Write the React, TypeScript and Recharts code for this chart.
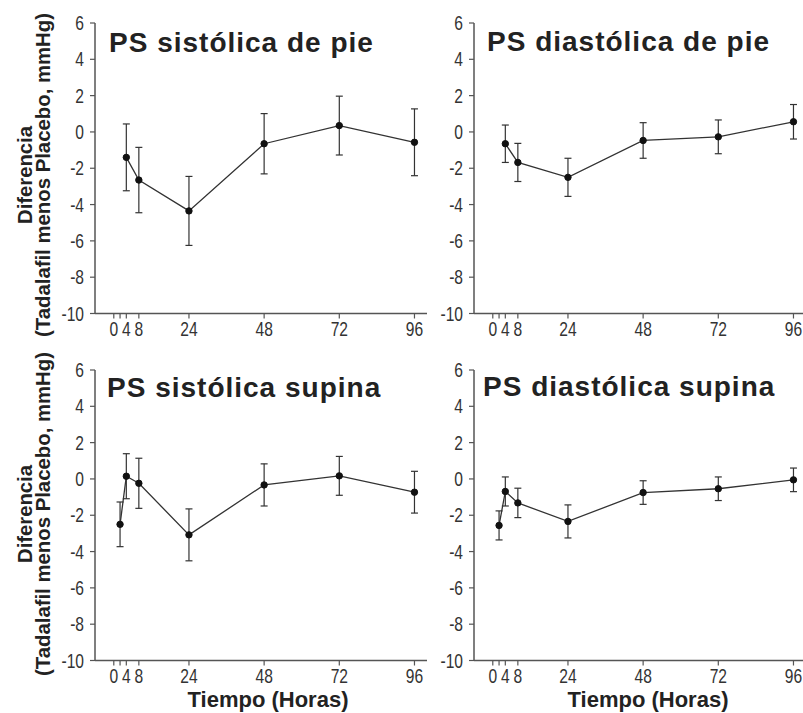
import React from 'react';
import { LineChart, Line, XAxis, YAxis, ErrorBar } from 'recharts';

// horas de medición
const hoursDePie = [4, 8, 24, 48, 72, 96];
const hoursSupina = [2, 4, 8, 24, 48, 72, 96];

// diferencia media (Tadalafil - Placebo, mmHg) y semiancho del intervalo
const sistDePieMean = [-1.4, -2.65, -4.35, -0.65, 0.35, -0.57];
const sistDePieErr = [1.84, 1.8, 1.9, 1.66, 1.62, 1.84];
const diastDePieMean = [-0.65, -1.68, -2.5, -0.47, -0.27, 0.56];
const diastDePieErr = [1.03, 1.05, 1.05, 0.98, 0.93, 0.95];
const sistSupinaMean = [-2.5, 0.15, -0.24, -3.08, -0.33, 0.17, -0.73];
const sistSupinaErr = [1.23, 1.24, 1.38, 1.43, 1.16, 1.07, 1.15];
const diastSupinaMean = [-2.56, -0.69, -1.32, -2.34, -0.75, -0.54, -0.05];
const diastSupinaErr = [0.8, 0.8, 0.81, 0.91, 0.65, 0.65, 0.65];

const xTicks = [0, 2, 4, 8, 24, 48, 72, 96];
const xTickLabels = ['0', '', '4', '8', '24', '48', '72', '96'];
const yTicks = [-10, -8, -6, -4, -2, 0, 2, 4, 6];

const titles = ['PS sistólica de pie', 'PS diastólica de pie', 'PS sistólica supina', 'PS diastólica supina'];
const yLabel1 = 'Diferencia';
const yLabel2 = '(Tadalafil menos Placebo, mmHg)';
const xLabel = 'Tiempo (Horas)';

const sans = '"Liberation Sans", Arial, Helvetica, sans-serif';
const axisColor = '#555';
const ink = '#222';
const squeeze = 0.8; // tick labels are a condensed face

const toRows = (hours: number[], mean: number[], err: number[]) =>
  hours.map((h, i) => ({ hour: h, mean: mean[i], err: err[i] }));

const XTick = (props: any) => {
  const { x, y, payload } = props;
  const label = xTickLabels[xTicks.indexOf(payload.value)];
  return (
    <text
      transform={`translate(${x},${y}) scale(${squeeze},1)`}
      dy="0.71em"
      textAnchor="middle"
      fontFamily={sans}
      fontSize={19.5}
      fill="#333"
    >
      {label}
    </text>
  );
};

const YTick = (props: any) => {
  const { x, y, payload } = props;
  return (
    <text
      transform={`translate(${x},${y}) scale(${squeeze},1)`}
      dy="0.36em"
      textAnchor="end"
      fontFamily={sans}
      fontSize={19.5}
      fill="#333"
    >
      {payload.value}
    </text>
  );
};

interface PanelProps {
  left: number;
  top: number;
  rows: { hour: number; mean: number; err: number }[];
}

const Panel: React.FC<PanelProps> = ({ left, top, rows }) => (
  <div style={{ position: 'absolute', left, top }}>
    <LineChart width={382} height={340.5} data={rows} margin={{ top: 10, right: 0, bottom: 0, left: 0 }}>
      <XAxis
        type="number"
        dataKey="hour"
        domain={[-6, 100]}
        ticks={xTicks}
        interval={0}
        allowDataOverflow
        tick={<XTick />}
        tickSize={5}
        tickMargin={4}
        height={40}
        axisLine={{ stroke: axisColor, strokeWidth: 1.5 }}
        tickLine={{ stroke: axisColor, strokeWidth: 1.2 }}
      />
      <YAxis
        type="number"
        domain={[-10, 6]}
        ticks={yTicks}
        interval={0}
        width={50}
        tickSize={5}
        tickMargin={6}
        axisLine={{ stroke: axisColor, strokeWidth: 1.5 }}
        tickLine={{ stroke: axisColor, strokeWidth: 1.2 }}
        tick={<YTick />}
      />
      <Line
        type="linear"
        dataKey="mean"
        stroke="#333"
        strokeWidth={1.3}
        dot={{ r: 3.2, fill: '#111', stroke: '#111', strokeWidth: 1 }}
        isAnimationActive={false}
      >
        <ErrorBar dataKey="err" width={3.5} stroke="#333" strokeWidth={1.2} isAnimationActive={false} />
      </Line>
    </LineChart>
  </div>
);

const YLabel = ({ cy }: { cy: number }) => (
  <g fontFamily={sans} fontWeight="bold" fontSize={21} fill={ink} textAnchor="middle">
    <text transform={`translate(31.5,${cy}) rotate(-90)`} textLength={98} lengthAdjust="spacingAndGlyphs">
      {yLabel1}
    </text>
    <text transform={`translate(50,${cy}) rotate(-90)`} textLength={324} lengthAdjust="spacingAndGlyphs">
      {yLabel2}
    </text>
  </g>
);

export default function App() {
  return (
    <div style={{ position: 'absolute', left: 0, top: 0, width: 803, height: 713, overflow: 'hidden', background: '#fff' }}>
      <Panel left={45} top={13} rows={toRows(hoursDePie, sistDePieMean, sistDePieErr)} />
      <Panel left={424} top={13} rows={toRows(hoursDePie, diastDePieMean, diastDePieErr)} />
      <Panel left={45} top={360} rows={toRows(hoursSupina, sistSupinaMean, sistSupinaErr)} />
      <Panel left={424} top={360} rows={toRows(hoursSupina, diastSupinaMean, diastSupinaErr)} />
      <svg width={803} height={713} style={{ position: 'absolute', left: 0, top: 0, pointerEvents: 'none' }}>
        <g fontFamily={sans} fontWeight="bold" fontSize={28} letterSpacing={1} fill={ink}>
          <text x={109} y={51.5}>{titles[0]}</text>
          <text x={487} y={51}>{titles[1]}</text>
          <text x={107} y={396.5}>{titles[2]}</text>
          <text x={483} y={396}>{titles[3]}</text>
        </g>
        <YLabel cy={175} />
        <YLabel cy={514} />
        <g fontFamily={sans} fontWeight="bold" fontSize={22} fill={ink} textAnchor="middle">
          <text x={268} y={707}>{xLabel}</text>
          <text x={648} y={707}>{xLabel}</text>
        </g>
      </svg>
    </div>
  );
}
